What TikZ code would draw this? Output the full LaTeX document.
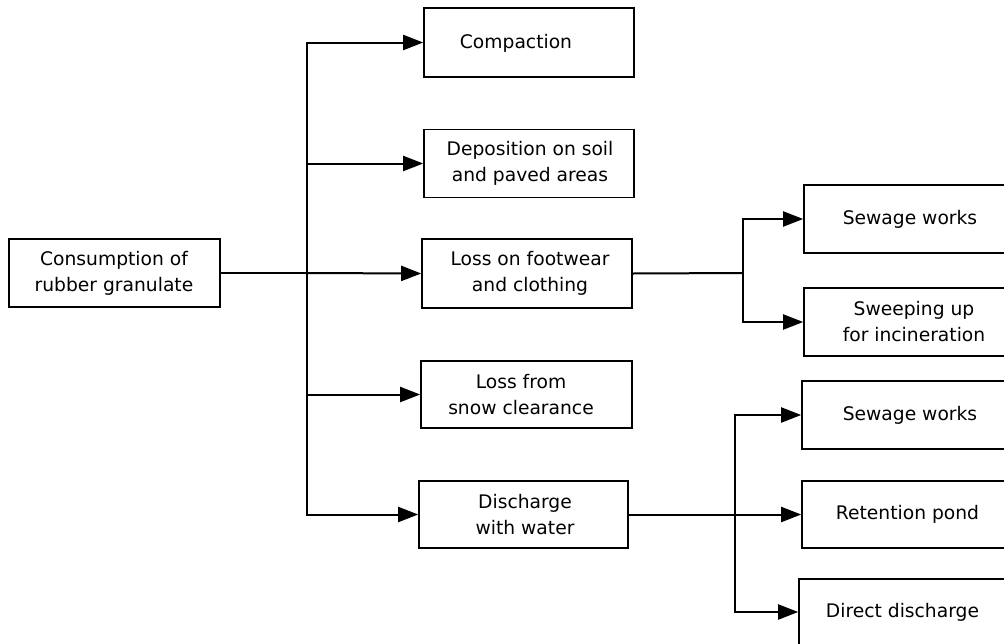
\documentclass[tikz,border=0pt]{standalone}
\usepackage{fontspec}
\setmainfont{DejaVu Sans}
\usetikzlibrary{arrows.meta}
\tikzset{
  box/.style={draw=black, line width=1.6pt, rectangle, inner sep=0pt},
  txt/.style={align=center, inner sep=0pt, font=\fontsize{18.7}{26}\selectfont},
  conn/.style={draw=black, line width=2pt},
  arr/.style={conn, -{Triangle[length=20pt, width=15pt]}}
}
\begin{document}
\begin{tikzpicture}[x=1pt,y=-1pt]
\useasboundingbox (0,0) rectangle (1004,643);
% left column boxes
\node[box, minimum width=211pt, minimum height=68pt] (cons) at (114.5,273) {};
\node[txt] (tcons) at (114,273) {Consumption of\\rubber granulate};
\node[box, minimum width=210pt, minimum height=69pt] (comp) at (529,42.5) {};
\node[txt] (tcomp) at (516,43) {Compaction};
\node[box, minimum width=210pt, minimum height=68pt] (dep) at (529,163.5) {};
\node[txt] (tdep) at (530,163.5) {Deposition on soil\\and paved areas};
\node[box, minimum width=210pt, minimum height=69pt] (foot) at (527,273.5) {};
\node[txt] (tfoot) at (530,273.5) {Loss on footwear\\and clothing};
\node[box, minimum width=211pt, minimum height=67pt] (snow) at (526.5,394.5) {};
\node[txt] (tsnow) at (521,394.5) {Loss from\\snow clearance};
\node[box, minimum width=209pt, minimum height=67pt] (dis) at (523.5,514.5) {};
\node[txt] (tdis) at (525,514.5) {Discharge\\with water};
% right column boxes
\node[box, minimum width=206pt, minimum height=68pt] (sewa) at (907,219) {};
\node[txt] (tsewa) at (910,219) {Sewage works};
\node[box, minimum width=206pt, minimum height=68pt] (sweep) at (907,322) {};
\node[txt] (tsweep) at (914,322) {Sweeping up\\for incineration};
\node[box, minimum width=208pt, minimum height=68pt] (sewb) at (906,415) {};
\node[txt] (tsewb) at (910,415) {Sewage works};
\node[box, minimum width=208pt, minimum height=67pt] (ret) at (906,514.5) {};
\node[txt] (tret) at (907.5,514.5) {Retention pond};
\node[box, minimum width=211pt, minimum height=66pt] (direct) at (904.5,612) {};
\node[txt] (tdirect) at (902.5,612) {Direct discharge};
% junctions
\coordinate (ja) at (307,273);
\coordinate (jb) at (743,273);
\coordinate (jc) at (735,514.5);
% connectors
\draw[conn] (cons.east) -- (ja);
\draw[arr] (ja) |- (comp.west);
\draw[arr] (ja) |- (dep.west);
\draw[arr] (ja) -- (foot.west);
\draw[arr] (ja) |- (snow.west);
\draw[arr] (ja) |- (dis.west);
\draw[conn] (foot.east) -- (jb);
\draw[arr] (jb) |- (sewa.west);
\draw[arr] (jb) |- (sweep.west);
\draw[conn] (dis.east) -- (jc);
\draw[arr] (jc) |- (sewb.west);
\draw[arr] (jc) -- (ret.west);
\draw[arr] (jc) |- (direct.west);
\end{tikzpicture}
\end{document}
